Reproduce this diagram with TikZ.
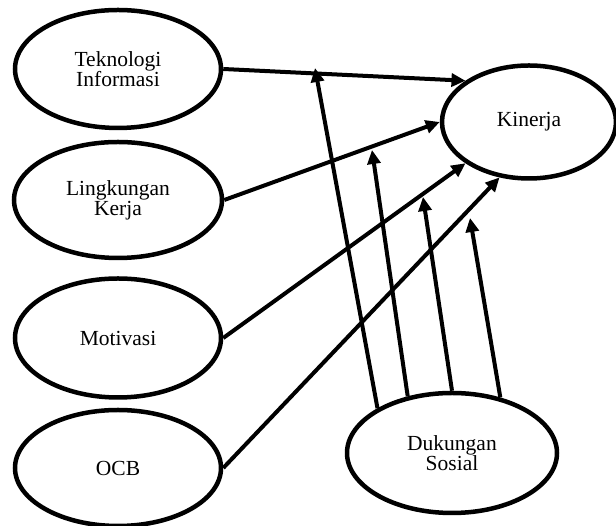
\documentclass[tikz,border=0pt]{standalone}
\usepackage{fontspec}
\setmainfont{Liberation Serif}
\usetikzlibrary{shapes.geometric,arrows.meta}
\begin{document}
\begin{tikzpicture}[x=1pt,y=1pt,
  var/.style={draw,ellipse,line width=4.5pt,inner sep=0pt,align=center,
    font=\fontsize{21.5}{20}\selectfont},
  conn/.style={line width=4pt,-{Triangle[length=14pt,width=13pt]}}]
\useasboundingbox (0,0) rectangle (616,526);
\node[var,minimum width=206pt,minimum height=118pt] (ti) at (118,457) {Teknologi\\Informasi};
\node[var,minimum width=208pt,minimum height=116pt] (lk) at (118,326) {Lingkungan\\Kerja};
\node[var,minimum width=206pt,minimum height=119pt] (mot) at (118,188) {Motivasi};
\node[var,minimum width=206pt,minimum height=116pt] (ocb) at (118,58) {OCB};
\node[var,minimum width=174pt,minimum height=113pt] (kin) at (529,404) {Kinerja};
\node[var,minimum width=210pt,minimum height=120pt] (ds) at (452,73) {Dukungan\\Sosial};
\coordinate (c1) at (315,458);
\coordinate (c2) at (372,376);
\coordinate (c3) at (423,329);
\coordinate (c4) at (470,308);
\draw[conn] (ti.east) -- (kin.147);
\draw[conn] (lk.east) -- (kin.west);
\draw[conn] (mot.east) -- (kin.213.5);
\draw[conn] (ocb.east) -- (kin.242.6);
\draw[conn] (ds.149.8) -- (c1);
\draw[conn] (ds.128.2) -- (c2);
\draw[conn] (ds.90) -- (c3);
\draw[conn] (ds.49.4) -- (c4);
\end{tikzpicture}
\end{document}
